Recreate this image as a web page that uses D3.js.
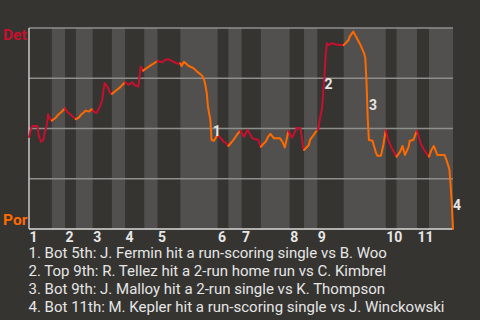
<!DOCTYPE html>
<html>
<head>
<meta charset="utf-8">
<script src="https://cdn.jsdelivr.net/npm/d3@7"></script>
<style>
  html, body { margin: 0; padding: 0; background: #353431; }
  svg { display: block; }
</style>
</head>
<body>
<svg id="chart" width="480" height="320"></svg>
<script>
// ---- data ----
const teams = ["Det", "Por"];              // top = away (Det), bottom = home (Por)
const innings = ["1","2","3","4","5","6","7","8","9","10","11"];
// pitch index at which each half-inning starts (top 1, bot 1, top 2, ...)
const halfInningStarts = [0,19,30,39,53,69,80,96,107,126,157,166,177,193,217,229,240,262,297,306,323,333];
const totalPitches = 353;
// win probability (Det %) by pitch index
const pitchIdx = [0,2,3,7,8,10,12,13,15,16,17,19,
  22,24,27,30,
  32,34,37,39,
  42,43,46,47,50,52,53,
  56,59,61,62,63,66,67,69,
  72,76,79,80,
  83,86,88,91,93,95,
  98,101,104,107,
  111,113,116,119,120,123,126,
  127,129,133,137,140,144,146,147,148,149,151,152,154,156,157,
  161,162,164,166,
  169,171,173,176,
  179,182,186,188,191,193,
  195,197,199,201,204,207,209,211,213,216,
  219,223,226,228,229,
  233,234,237,240,
  241,242,244,245,246,247,248,249,252,255,258,262,
  266,267,270,273,276,279,280,281,282,283,286,287,289,290,293,295,297,
  299,302,306,
  309,311,313,316,317,320,323,
  326,329,333,
  335,337,340,342,346,348,350,351,352,353];
const detWinPct = [45.8,50.2,51.2,51.2,46.8,43.4,44.3,47.8,52.2,57.1,55.2,53.9,
  55.2,56.7,58.2,60.0,
  58.2,57.2,55.7,54.6,
  55.7,56.7,58.2,58.9,58.4,59.6,58.9,
  57.6,60.8,64.2,69.2,72.6,70.1,68.3,67.2,
  68.7,70.6,72.5,73.0,
  71.6,73.0,71.6,70.8,80.7,78.8,
  80.1,81.3,82.4,83.6,
  82.9,84.1,84.4,83.7,83.2,82.4,82.4,
  81.1,83.2,81.1,80.0,78.3,76.4,73.8,71.1,67.5,60.8,54.2,44.3,43.9,45.9,46.8,
  44.3,43.5,42.9,41.3,
  43.4,45.0,46.8,48.9,
  45.9,49.3,45.1,44.8,44.3,40.9,
  42.3,43.4,45.8,47.3,45.1,45.1,45.1,43.4,40.6,48.8,
  45.4,50.4,50.1,41.8,39.3,
  41.8,44.3,46.8,49.3,
  50.1,54.2,60.2,68.3,76.6,86.6,92.4,91.5,92.4,91.9,91.5,91.5,
  94.0,95.7,98.2,94.9,91.5,87.4,84.9,73.0,55.0,44.3,43.9,41.8,37.7,36.5,36.5,41.8,49.3,
  44.3,40.3,36.0,
  38.5,41.3,36.8,40.9,43.9,44.3,48.9,
  42.6,39.3,36.0,
  39.3,41.3,36.8,36.8,36.8,33.5,29.7,22.0,13.0,0];
// key plays
const keyPlays = [
  "Bot 5th: J. Fermin hit a run-scoring single vs B. Woo",
  "Top 9th: R. Tellez hit a 2-run home run vs C. Kimbrel",
  "Bot 9th: J. Malloy hit a 2-run single vs K. Thompson",
  "Bot 11th: M. Kepler hit a run-scoring single vs J. Winckowski"
];
const keyPlayIdx = [153, 246, 283, 353];
const keyPlayPct = [46.5, 69.7, 59.2, 9.5];

// ---- styles ----
const COL_AWAY = "#c8102e", COL_HOME = "#ff6a00";
const BG_LIGHT = "#51504e";
const TXT = "#e6e6e6";

const svg = d3.select("#chart");
const x = d3.scaleLinear().domain([0, totalPitches]).range([29, 453]);
const y = d3.scaleLinear().domain([0, 100]).range([229, 28]);

// stripes: bottom halves lighter
const halves = halfInningStarts.map((s, i) => ({
  s, e: i + 1 < halfInningStarts.length ? halfInningStarts[i + 1] : totalPitches, i
}));
svg.append("g").selectAll("rect").data(halves.filter(d => d.i % 2 === 1)).join("rect")
  .attr("x", d => x(d.s)).attr("width", d => x(d.e) - x(d.s))
  .attr("y", y(100)).attr("height", y(0) - y(100))
  .attr("fill", BG_LIGHT);

// gridlines
svg.append("g").selectAll("line").data([25, 50, 75, 100]).join("line")
  .attr("x1", x(0)).attr("x2", x(totalPitches))
  .attr("y1", d => y(d)).attr("y2", d => y(d))
  .attr("stroke", "#8e8e8c").attr("stroke-width", 1.5);

// axes lines
svg.append("line").attr("x1", x(0)).attr("x2", x(0)).attr("y1", y(100)).attr("y2", y(0))
  .attr("stroke", "#c8c8c8").attr("stroke-width", 1.5);
svg.append("line").attr("x1", x(0)).attr("x2", x(totalPitches)).attr("y1", y(0)).attr("y2", y(0))
  .attr("stroke", "#d8d8d8").attr("stroke-width", 1.5);

// win-probability line, coloured by batting team
const pts = pitchIdx.map((d, i) => ({ idx: d, p: detWinPct[i] }));
function halfOf(v) {
  let h = 0;
  for (let k = 0; k < halfInningStarts.length; k++) if (v >= halfInningStarts[k]) h = k;
  return h;
}
const runs = [];
for (let i = 0; i < pts.length - 1; i++) {
  const h = halfOf((pts[i].idx + pts[i + 1].idx) / 2);
  const col = h % 2 === 0 ? COL_AWAY : COL_HOME;
  if (runs.length && runs[runs.length - 1].col === col) runs[runs.length - 1].pts.push(pts[i + 1]);
  else runs.push({ col, pts: [pts[i], pts[i + 1]] });
}
const line = d3.line().x(d => x(d.idx)).y(d => y(d.p));
svg.append("g").selectAll("path").data(runs).join("path")
  .attr("d", d => line(d.pts)).attr("fill", "none")
  .attr("stroke", d => d.col).attr("stroke-width", 2)
  .attr("stroke-linejoin", "round").attr("stroke-linecap", "round");

// team labels
svg.append("text").text(teams[0]).attr("x", 3).attr("y", 40)
  .attr("font-family", "Roboto").attr("font-weight", "bold").attr("font-size", 15.5).attr("fill", COL_AWAY);
svg.append("text").text(teams[1]).attr("x", 3).attr("y", 225)
  .attr("font-family", "Roboto").attr("font-weight", "bold").attr("font-size", 15.5).attr("fill", COL_HOME);

// inning labels
svg.append("g").selectAll("text").data(innings).join("text")
  .text(d => d).attr("x", (d, i) => x(halfInningStarts[i * 2]) + 0.5).attr("y", 242)
  .attr("font-family", "Roboto").attr("font-weight", "bold").attr("font-size", 14).attr("fill", TXT);

// key play markers
svg.append("g").selectAll("text").data(keyPlays).join("text")
  .text((d, i) => i + 1).attr("x", (d, i) => x(keyPlayIdx[i])).attr("y", (d, i) => y(keyPlayPct[i]))
  .attr("font-family", "Roboto").attr("font-weight", "bold").attr("font-size", 14).attr("fill", TXT);

// legend
svg.append("g").selectAll("text").data(keyPlays).join("text")
  .text((d, i) => `${i + 1}. ${d}`).attr("x", 28.5).attr("y", (d, i) => 257.5 + i * 18)
  .attr("font-family", "Roboto").attr("font-size", 15).attr("fill", TXT);
</script>
</body>
</html>
